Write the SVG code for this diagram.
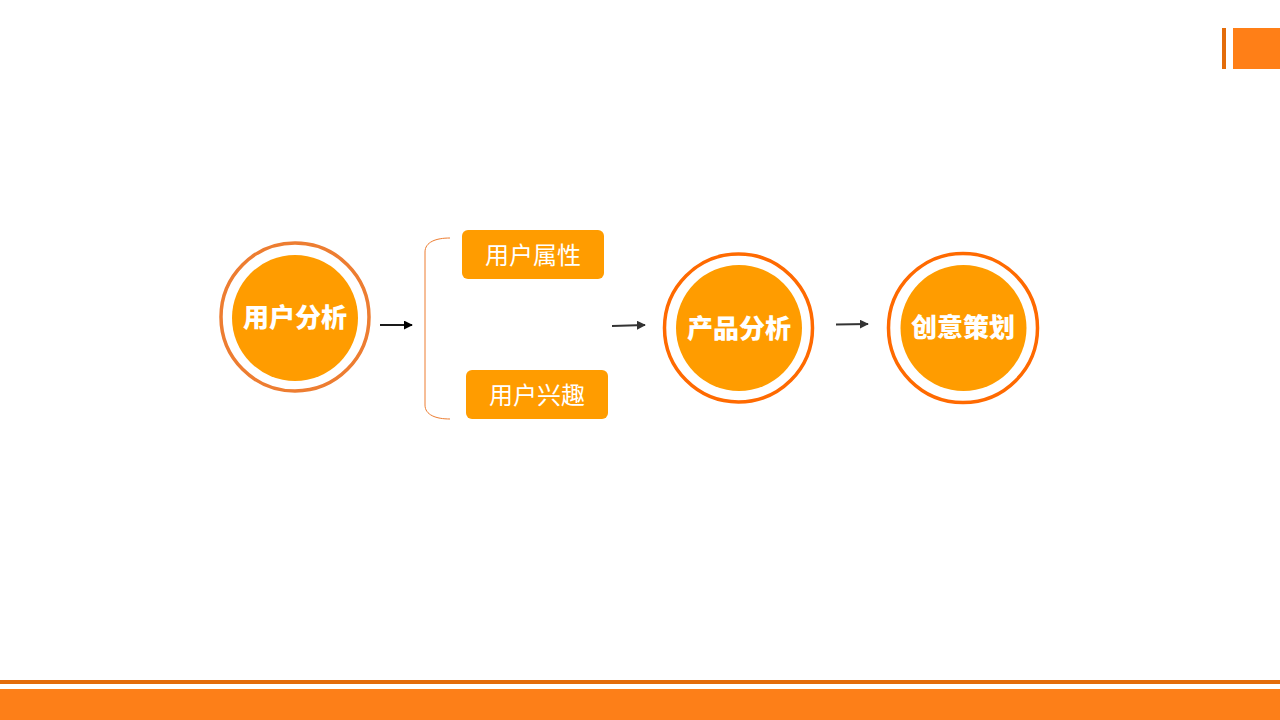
<svg xmlns="http://www.w3.org/2000/svg" width="1280" height="720" viewBox="0 0 1280 720">
<defs>
<style>
.ring{fill:#FFFFFF;stroke-width:3.5}
.core{fill:#FF9C00}
.ctext{font-family:"Noto Sans CJK SC","Liberation Sans",sans-serif;font-size:26px;font-weight:900;fill:#FFFFFF;text-anchor:middle}
.box{fill:#FF9C00}
.btext{font-family:"Noto Sans CJK SC","Liberation Sans",sans-serif;font-size:24px;fill:#FFFFFF;text-anchor:middle}
.conn{stroke-width:1.8;fill:none}
</style>
<marker id="ahk" viewBox="0 0 10 10" refX="9" refY="5" markerWidth="5" markerHeight="5" orient="auto" markerUnits="strokeWidth">
<path d="M0,0 L10,5 L0,10 z" fill="#000000"/>
</marker>
<marker id="ahg" viewBox="0 0 10 10" refX="9" refY="5" markerWidth="5" markerHeight="5" orient="auto" markerUnits="strokeWidth">
<path d="M0,0 L10,5 L0,10 z" fill="#333333"/>
</marker>
</defs>
<rect width="1280" height="720" fill="#FFFFFF"/>
<g id="decor">
<rect x="1222" y="28" width="4" height="41" fill="#E36C0A"/>
<rect x="1233" y="28" width="47" height="41" fill="#FF7F17"/>
<rect x="0" y="680" width="1280" height="4" fill="#E36C0A"/>
<rect x="0" y="689" width="1280" height="31" fill="#FD7F18"/>
</g>
<g id="connectors">
<line class="conn" x1="380" y1="325" x2="412" y2="325" stroke="#000000" marker-end="url(#ahk)"/>
<line class="conn" x1="612" y1="326" x2="645" y2="325" stroke="#333333" marker-end="url(#ahg)"/>
<line class="conn" x1="836" y1="324.5" x2="868" y2="324" stroke="#333333" marker-end="url(#ahg)"/>
<path d="M450,238 C436,238 425,242 425,252 L425,405 C425,415 436,419 450,419" fill="none" stroke="#ED7D31" stroke-width="1"/>
</g>
<g id="node-user-analysis">
<circle class="ring" cx="295" cy="317" r="74" stroke="#ED7D31"/>
<circle class="core" cx="295" cy="318" r="63"/>
<text class="ctext" x="295" y="327">用户分析</text>
</g>
<g id="node-user-attr">
<rect class="box" x="462" y="230" width="142" height="49" rx="6"/>
<text class="btext" x="533" y="264">用户属性</text>
</g>
<g id="node-user-interest">
<rect class="box" x="466" y="370" width="142" height="49" rx="6"/>
<text class="btext" x="537" y="404">用户兴趣</text>
</g>
<g id="node-product-analysis">
<circle class="ring" cx="738.5" cy="328" r="74" stroke="#FF6A00"/>
<circle class="core" cx="739" cy="328" r="63"/>
<text class="ctext" x="739" y="338">产品分析</text>
</g>
<g id="node-creative">
<circle class="ring" cx="963" cy="328" r="74.5" stroke="#FF6A00"/>
<circle class="core" cx="963.5" cy="328" r="63"/>
<text class="ctext" x="963" y="337">创意策划</text>
</g>
</svg>
